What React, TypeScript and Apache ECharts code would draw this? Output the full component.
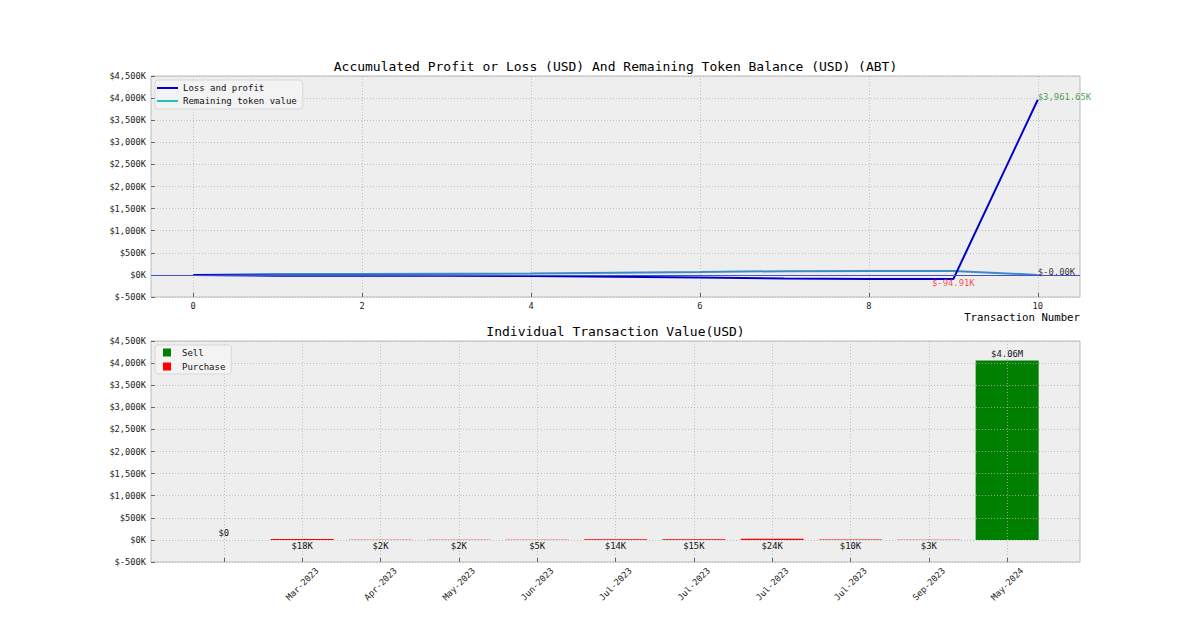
import React, { useEffect, useRef } from 'react';
import * as echarts from 'echarts';

const FONT = "'DejaVu Sans Mono', monospace";

// ---- Top chart data ----
const txNumbers = [0, 1, 2, 3, 4, 5, 6, 7, 8, 9, 10];
const lossProfit = [0, -18000, -20000, -22000, -27000, -41000, -56000, -80000, -90000, -94910, 3961650];
const tokenValue = [0, 18000, 21000, 24000, 30000, 48000, 65000, 85000, 90000, 91000, -0.4];
const topTicks = [0, 2, 4, 6, 8, 10];

// ---- Bottom chart data ----
const monthLabels = ['', 'Mar-2023', 'Apr-2023', 'May-2023', 'Jun-2023', 'Jul-2023', 'Jul-2023', 'Jul-2023', 'Jul-2023', 'Sep-2023', 'May-2024'];
const txType = ['Sell', 'Purchase', 'Purchase', 'Purchase', 'Purchase', 'Purchase', 'Purchase', 'Purchase', 'Purchase', 'Purchase', 'Sell'];
const txValue = [0, 18000, 2000, 2000, 5000, 14000, 15000, 24000, 10000, 3000, 4060000];

// ---- Y axis ----
const yMin = -500000;
const yMax = 4500000;
const yStep = 500000;

const fmtAxis = (v: number) => '$' + (v / 1000).toLocaleString('en-US') + 'K';
const fmtK = (v: number) =>
  '$' + (v < 0 ? '-' : '') +
  (Math.abs(v) / 1000).toLocaleString('en-US', { minimumFractionDigits: 2, maximumFractionDigits: 2 }) + 'K';
const fmtBar = (v: number) => {
  if (v >= 1e6) return '$' + (v / 1e6).toFixed(2) + 'M';
  if (v >= 1000) return '$' + Math.round(v / 1000) + 'K';
  return '$' + Math.round(v);
};

const gridLine = { show: true, lineStyle: { color: '#b2b2b2', width: 0.8, type: [1, 2] as any } };
const tickStyle = { show: true, inside: true, length: 4, lineStyle: { color: '#666', width: 1 } };

function buildOption() {
  const n = txNumbers.length;
  const lpData = txNumbers.map((x, i) => [x, lossProfit[i]]);
  const tvData = txNumbers.map((x, i) => [x, tokenValue[i]]);

  const last = n - 1;
  let minIdx = 0;
  for (let i = 0; i < last; i++) if (lossProfit[i] < lossProfit[minIdx]) minIdx = i;

  const annotations = [
    {
      value: [txNumbers[last], lossProfit[last]],
      label: { show: true, formatter: fmtK(lossProfit[last]), position: 'right', distance: 0, offset: [0, -3], color: '#1a8c1a' },
    },
    {
      value: [txNumbers[minIdx], lossProfit[minIdx]],
      label: { show: true, formatter: fmtK(lossProfit[minIdx]), position: 'bottom', distance: -1, color: '#ff2020' },
    },
    {
      value: [txNumbers[last], tokenValue[last]],
      label: { show: true, formatter: fmtK(tokenValue[last]), position: 'right', distance: 0, offset: [0, -3], color: '#000' },
    },
  ];

  const sellData: any[] = [];
  const buyData: any[] = [];
  txValue.forEach((v, i) => {
    if (txType[i] === 'Sell') sellData.push([i, v]);
    else buyData.push([i, v]);
  });

  const yAxisBase = (gridIndex: number) => ({
    type: 'value',
    gridIndex,
    min: yMin,
    max: yMax,
    interval: yStep,
    axisLine: { show: false, onZero: false },
    axisTick: tickStyle,
    splitLine: gridLine,
    axisLabel: { formatter: fmtAxis, fontFamily: FONT, fontSize: 8.7, color: '#222', margin: 5 },
  });

  return {
    animation: false,
    backgroundColor: '#ffffff',
    textStyle: { fontFamily: FONT },
    title: [
      {
        text: 'Accumulated Profit or Loss (USD) And Remaining Token Balance (USD) (ABT)',
        left: 615.5, top: 60, textAlign: 'center', padding: 0,
        textStyle: { fontFamily: FONT, fontSize: 13, fontWeight: 'normal', color: '#000' },
      },
      {
        text: 'Individual Transaction Value(USD)',
        left: 615.5, top: 325, textAlign: 'center', padding: 0,
        textStyle: { fontFamily: FONT, fontSize: 13, fontWeight: 'normal', color: '#000' },
      },
    ],
    grid: [
      { left: 151, right: 120, top: 76, height: 221, show: true, backgroundColor: '#eeeeee', borderColor: '#bcbcbc', borderWidth: 1 },
      { left: 151, right: 120, top: 341, height: 221, show: true, backgroundColor: '#eeeeee', borderColor: '#bcbcbc', borderWidth: 1 },
    ],
    legend: [
      {
        orient: 'vertical', left: 155, top: 80,
        padding: [3, 6, 3, 2], itemGap: 3, itemWidth: 21, itemHeight: 2, icon: 'rect',
        backgroundColor: 'rgba(243,243,243,0.9)', borderColor: '#d8d8d8', borderWidth: 1, borderRadius: 3,
        textStyle: { fontFamily: FONT, fontSize: 9, color: '#111', lineHeight: 10 },
        data: [
          { name: 'Loss and profit', itemStyle: { color: '#0000cd' } },
          { name: 'Remaining token value', itemStyle: { color: '#20c0c0' } },
        ],
      },
      {
        orient: 'vertical', left: 155, top: 345,
        padding: [3, 6, 3, 8], itemGap: 5, itemWidth: 8, itemHeight: 8, icon: 'rect',
        backgroundColor: 'rgba(243,243,243,0.9)', borderColor: '#d8d8d8', borderWidth: 1, borderRadius: 3,
        textStyle: { fontFamily: FONT, fontSize: 9, color: '#111', padding: [0, 0, 0, 6] },
        data: ['Sell', 'Purchase'],
      },
    ],
    xAxis: [
      {
        type: 'value', gridIndex: 0, min: -0.5, max: 10.5,
        axisLine: { show: false, onZero: false },
        axisTick: { ...tickStyle, customValues: topTicks },
        splitLine: gridLine,
        axisLabel: { customValues: topTicks, fontFamily: FONT, fontSize: 8.7, color: '#222', margin: 4 },
      },
      {
        type: 'value', gridIndex: 1, min: -0.93, max: 10.93, z: 3,
        axisLine: { show: false, onZero: false },
        axisTick: { ...tickStyle, customValues: txNumbers },
        splitLine: gridLine,
        axisLabel: {
          customValues: txNumbers,
          formatter: (v: number) => monthLabels[Math.round(v)] || '',
          rotate: 45, align: 'center', verticalAlign: 'middle',
          fontFamily: FONT, fontSize: 8.7, color: '#222', margin: 22,
        },
      },
    ],
    yAxis: [yAxisBase(0), { ...yAxisBase(1), z: 3 }],
    graphic: [
      {
        type: 'text', x: 1080, y: 317,
        style: { text: 'Transaction Number', align: 'right', verticalAlign: 'middle', font: `10.7px ${FONT}`, fill: '#000' },
      },
    ],
    series: [
      {
        name: 'Remaining token value', type: 'line', xAxisIndex: 0, yAxisIndex: 0,
        data: tvData, symbol: 'none', color: '#3a8cc4',
        lineStyle: { color: '#3a8cc4', width: 2 }, z: 2,
      },
      {
        name: 'Loss and profit', type: 'line', xAxisIndex: 0, yAxisIndex: 0,
        data: lpData, symbol: 'none', color: '#0000cd',
        lineStyle: { color: '#0000cd', width: 2 }, z: 3,
        markLine: {
          silent: true, symbol: 'none', label: { show: false },
          lineStyle: { color: '#4b4bd0', width: 1, type: 'solid' },
          data: [{ yAxis: 0 }],
        },
      },
      {
        name: 'annotations', type: 'scatter', xAxisIndex: 0, yAxisIndex: 0,
        symbolSize: 0, itemStyle: { color: 'transparent' }, z: 5,
        label: { fontFamily: FONT, fontSize: 8.9 },
        data: annotations,
      },
      {
        name: 'Sell', type: 'bar', xAxisIndex: 1, yAxisIndex: 1,
        data: sellData, barWidth: 63, barGap: '-100%', color: '#008000', z: 2,
        label: { show: true, position: 'top', distance: 2, fontFamily: FONT, fontSize: 8.9, color: '#111', formatter: (p: any) => fmtBar(p.value[1]) },
      },
      {
        name: 'Purchase', type: 'bar', xAxisIndex: 1, yAxisIndex: 1,
        data: buyData, barWidth: 63, barGap: '-100%', color: '#ff0000', z: 4,
        label: { show: true, position: 'bottom', distance: 2, fontFamily: FONT, fontSize: 8.9, color: '#111', formatter: (p: any) => fmtBar(p.value[1]) },
      },
    ],
  };
}

export default function App() {
  const ref = useRef<HTMLDivElement>(null);
  useEffect(() => {
    if (!ref.current) return;
    const chart = echarts.init(ref.current, null, { renderer: 'svg' });
    chart.setOption(buildOption() as any);
    return () => chart.dispose();
  }, []);
  return (
    <div
      ref={ref}
      style={{ position: 'fixed', left: 0, top: 0, width: 1200, height: 632, background: '#ffffff' }}
    />
  );
}
